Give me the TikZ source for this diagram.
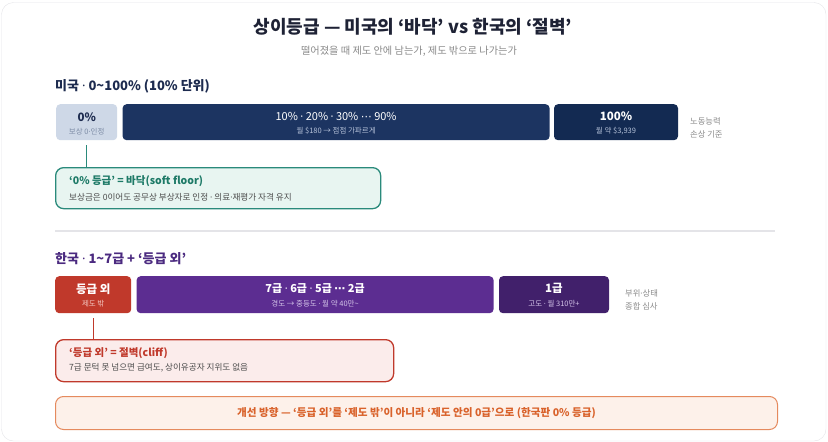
\documentclass[tikz,border=0pt]{standalone}
\usepackage{fontspec}
\setmainfont{Noto Sans CJK KR}
\newfontfamily\latinfont{Noto Sans}
\newfontfamily\dejavufont{DejaVu Sans}
\newcommand{\sepdot}{{\latinfont ·}}
\newcommand{\midellip}{{\dejavufont ⋯}}
\usetikzlibrary{positioning,calc}

\definecolor{inkdark}{HTML}{1E2235}
\definecolor{subgray}{HTML}{8A8A8A}
\definecolor{cardline}{HTML}{E4E4E8}
\definecolor{ushead}{HTML}{1D2B4F}
\definecolor{uslight}{HTML}{CED8E7}
\definecolor{usnavy}{HTML}{1C3461}
\definecolor{usdeep}{HTML}{132A52}
\definecolor{usfaint}{HTML}{7C8BA5}
\definecolor{ussoft}{HTML}{B7C3DA}
\definecolor{noteteal}{HTML}{2A8A7B}
\definecolor{noteteallt}{HTML}{E8F5F1}
\definecolor{tealtext}{HTML}{1D7A67}
\definecolor{bodygray}{HTML}{4C4C4C}
\definecolor{krhead}{HTML}{4B2A80}
\definecolor{krred}{HTML}{C0392B}
\definecolor{krredlt}{HTML}{FBECEB}
\definecolor{krpurple}{HTML}{5C2D91}
\definecolor{krdeep}{HTML}{41206B}
\definecolor{krsoft}{HTML}{D3C3E8}
\definecolor{redsoft}{HTML}{F4C9C3}
\definecolor{fixorange}{HTML}{D9622B}
\definecolor{fixline}{HTML}{E58A5E}
\definecolor{fixfill}{HTML}{FDF1EA}

\begin{document}
\begin{tikzpicture}[x=1pt, y=-1pt, node distance=5pt,
    bar/.style={rectangle, rounded corners=4pt, minimum height=36pt, inner sep=0pt, anchor=north west},
    bartitle/.style={font=\bfseries\fontsize{11.5}{13}\selectfont},
    barsub/.style={font=\fontsize{7.5}{9}\selectfont},
    note/.style={rectangle, rounded corners=8pt, line width=1.3pt, inner sep=0pt, anchor=north west},
    notetitle/.style={font=\bfseries\fontsize{10.5}{12}\selectfont, anchor=west, inner sep=0pt},
    notebody/.style={font=\fontsize{8.6}{10}\selectfont, text=bodygray, anchor=west, inner sep=0pt},
    sidetext/.style={font=\fontsize{8.3}{13.5}\selectfont, text=subgray, align=left, anchor=west, inner sep=0pt},
    heading/.style={font=\bfseries\fontsize{13}{15}\selectfont, anchor=west, inner sep=0pt}]
    \useasboundingbox (0,0) rectangle (828,442);
    \draw[cardline, fill=white, rounded corners=12pt] (1.5,2.5) rectangle (826,441);

    % Title
    \node[font=\bfseries\fontsize{18}{20}\selectfont, text=inkdark] (title) at (413,27) {상이등급 — 미국의 ‘바닥’ vs 한국의 ‘절벽’};
    \node[font=\fontsize{10.2}{12}\selectfont, text=subgray] (subtitle) at (409,51) {떨어졌을 때 제도 안에 남는가, 제도 밖으로 나가는가};

    % Top: US
    \node[heading, text=ushead] (ushd) at (55,86) {미국 \sepdot{} 0\textasciitilde100\% (10\% 단위)};
    \node[bar, fill=uslight, minimum width=61pt] (US0) at (56,104) {};
    \node[bar, fill=usnavy, minimum width=427pt, right=of US0] (USmid) {};
    \node[bar, fill=usdeep, minimum width=124pt, right=4pt of USmid] (US100) {};
    \node[bartitle, text=ushead] (US0t) at ([yshift=5pt]US0.center) {0\%};
    \node[barsub, text=usfaint] (US0s) at ([yshift=-9.5pt]US0.center) {보상 0\sepdot{}인정};
    \node[font=\fontsize{11}{13}\selectfont, text=white] (USmidt) at ([yshift=6pt]USmid.center) {10\% \sepdot{} 20\% \sepdot{} 30\% \midellip{} 90\%};
    \node[barsub, text=ussoft] (USmids) at ([yshift=-9pt]USmid.center) {월 \$180 → 점점 가파르게};
    \node[bartitle, text=white] (US100t) at ([yshift=6pt]US100.center) {100\%};
    \node[barsub, text=ussoft] (US100s) at ([yshift=-9pt]US100.center) {월 약 \$3,939};
    \node[sidetext] (usside) at (690,128) {노동능력\\손상 기준};

    \node[note, draw=noteteal, fill=noteteallt, minimum width=325pt, minimum height=41pt] (USnote) at (55,167) {};
    \node[notetitle, text=tealtext] (USnotet) at (69,181) {‘0\% 등급’ = 바닥(soft floor)};
    \node[notebody] (USnoteb) at (69,197) {보상금은 0이어도 공무상 부상자로 인정 \sepdot{} 의료\sepdot{}재평가 자격 유지};
    \draw[noteteal, line width=1.3pt, shorten <=5pt] (US0.south) -- (US0.south |- USnote.north);

    % Divider
    \coordinate (divL) at (55,231);
    \coordinate (divR) at (775,231);
    \draw[cardline, line width=1.5pt] (divL) -- (divR);

    % Bottom: Korea
    \node[heading, text=krhead] (krhd) at (55,259) {한국 \sepdot{} 1\textasciitilde7급 + ‘등급 외’};
    \node[bar, fill=krred, minimum width=76pt, minimum height=37pt] (KRout) at (55,276) {};
    \node[bar, fill=krpurple, minimum width=357pt, minimum height=37pt, right=of KRout] (KRmid) {};
    \node[bar, fill=krdeep, minimum width=110pt, minimum height=37pt, right=of KRmid] (KR1) {};
    \node[bartitle, text=white] (KRoutt) at ([yshift=6pt]KRout.center) {등급 외};
    \node[barsub, text=redsoft] (KRouts) at ([yshift=-8.5pt]KRout.center) {제도 밖};
    \node[font=\bfseries\fontsize{11}{13}\selectfont, text=white] (KRmidt) at ([yshift=6pt]KRmid.center) {7급 \sepdot{} 6급 \sepdot{} 5급 \midellip{} 2급};
    \node[barsub, text=krsoft] (KRmids) at ([yshift=-8.5pt]KRmid.center) {경도 → 중등도 \sepdot{} 월 약 40만\textasciitilde};
    \node[bartitle, text=white] (KR1t) at ([yshift=6pt]KR1.center) {1급};
    \node[barsub, text=krsoft] (KR1s) at ([yshift=-8.5pt]KR1.center) {고도 \sepdot{} 월 310만+};
    \node[sidetext] (krside) at (625,300) {부위\sepdot{}상태\\종합 심사};

    \node[note, draw=krred, fill=krredlt, minimum width=338pt, minimum height=42pt] (KRnote) at (55,339) {};
    \node[notetitle, text=krred] (KRnotet) at (69,353) {‘등급 외’ = 절벽(cliff)};
    \node[notebody] (KRnoteb) at (69,368) {7급 문턱 못 넘으면 급여도, 상이유공자 지위도 없음};
    \draw[krred, line width=1.3pt, shorten <=5pt] (KRout.south) -- (KRout.south |- KRnote.north);

    % Fix
    \node[note, draw=fixline, fill=fixfill, line width=1pt, minimum width=722pt, minimum height=33pt] (fix) at (55,396) {};
    \node[font=\bfseries\fontsize{10.6}{12}\selectfont, text=fixorange] (fixt) at (fix.center) {개선 방향 — ‘등급 외’를 ‘제도 밖’이 아니라 ‘제도 안의 0급’으로 (한국판 0\% 등급)};
\end{tikzpicture}
\end{document}
